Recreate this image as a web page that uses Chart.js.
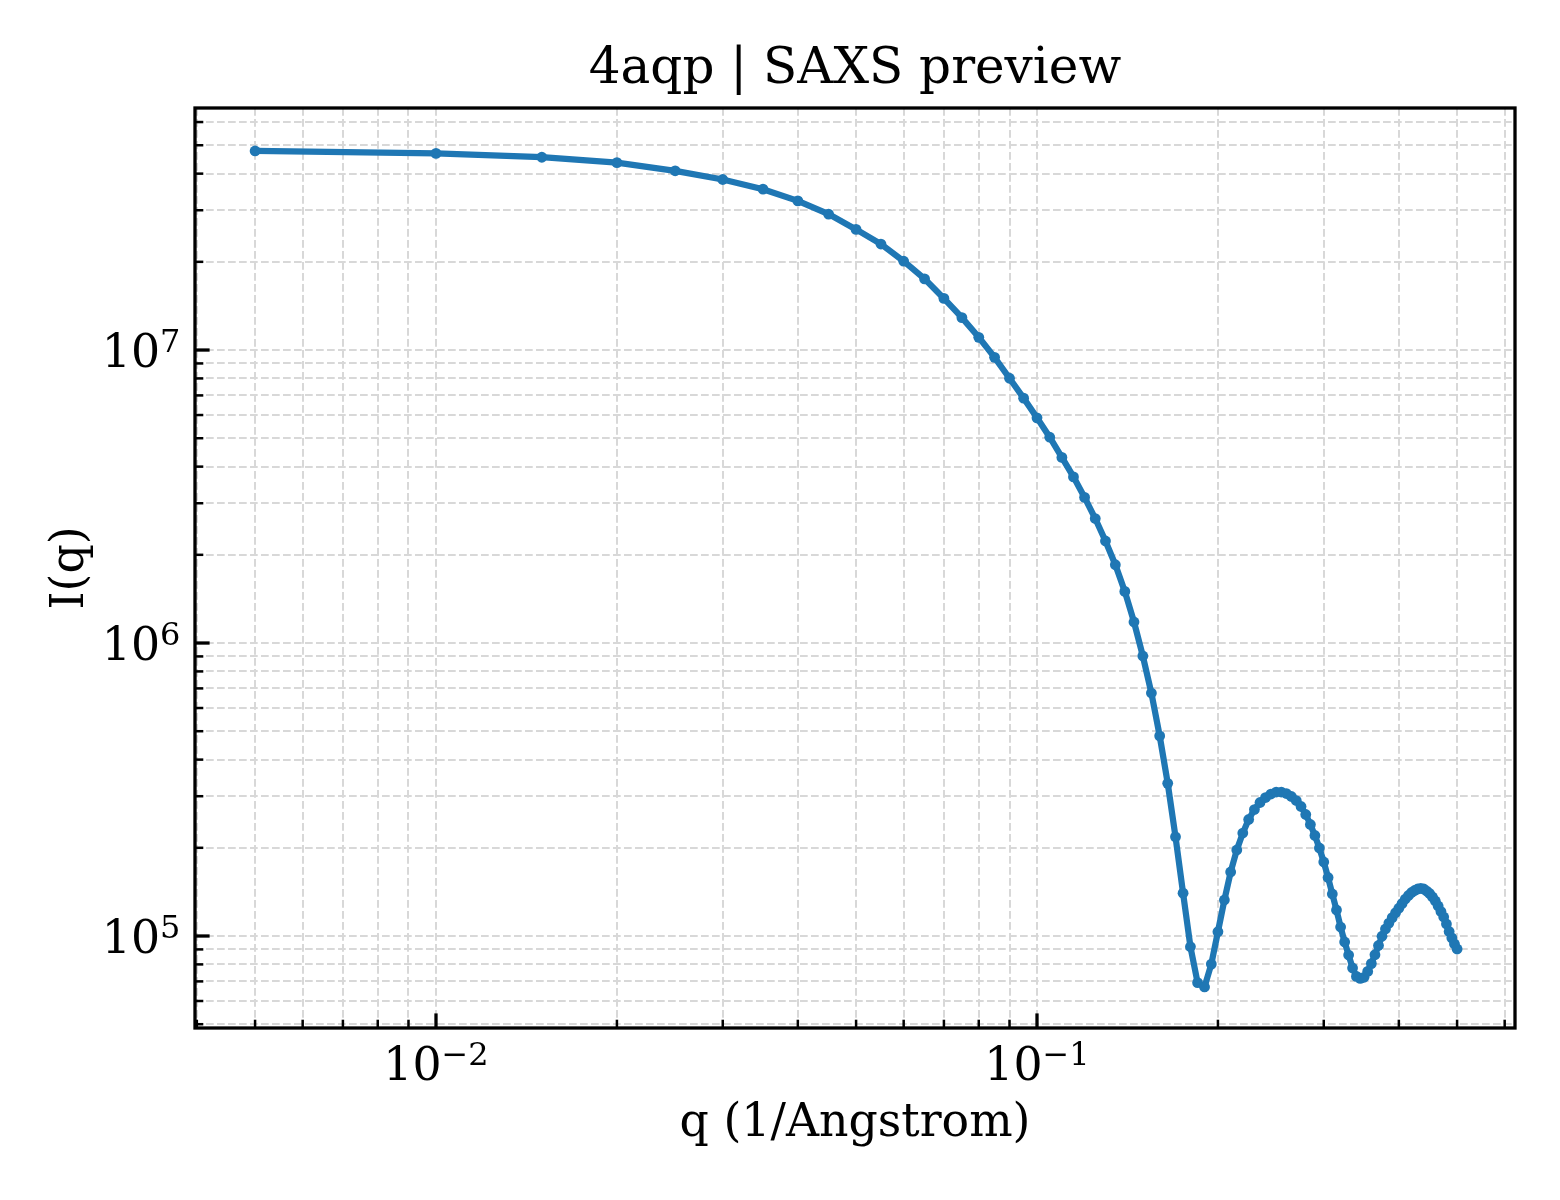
<!DOCTYPE html>
<html>
<head>
<meta charset="utf-8">
<title>4aqp | SAXS preview</title>
<script src="https://cdn.jsdelivr.net/npm/chart.js@4.4.1/dist/chart.umd.min.js"></script>
<style>
  body { margin: 0; background: #ffffff; }
  #saxsChart { display: block; }
</style>
</head>
<body>
<canvas id="saxsChart" width="1560" height="1200"></canvas>
<script>
  // scattering vector q (1/Angstrom)
  const qValues = [
    0.005, 0.010, 0.015, 0.020, 0.025, 0.030, 0.035, 0.040, 0.045, 0.050,
    0.055, 0.060, 0.065, 0.070, 0.075, 0.080, 0.085, 0.090, 0.095, 0.100,
    0.105, 0.110, 0.115, 0.120, 0.125, 0.130, 0.135, 0.140, 0.145, 0.150,
    0.155, 0.160, 0.165, 0.170, 0.175, 0.180, 0.185, 0.190, 0.195, 0.200,
    0.205, 0.210, 0.215, 0.220, 0.225, 0.230, 0.235, 0.240, 0.245, 0.250,
    0.255, 0.260, 0.265, 0.270, 0.275, 0.280, 0.285, 0.290, 0.295, 0.300,
    0.305, 0.310, 0.315, 0.320, 0.325, 0.330, 0.335, 0.340, 0.345, 0.350,
    0.355, 0.360, 0.365, 0.370, 0.375, 0.380, 0.385, 0.390, 0.395, 0.400,
    0.405, 0.410, 0.415, 0.420, 0.425, 0.430, 0.435, 0.440, 0.445, 0.450,
    0.455, 0.460, 0.465, 0.470, 0.475, 0.480, 0.485, 0.490, 0.495, 0.500
  ];

  // intensity I(q)
  const intensity = [
    4.78e7, 4.69e7, 4.55e7, 4.36e7, 4.09e7, 3.82e7, 3.54e7, 3.23e7, 2.91e7, 2.58e7,
    2.30e7, 2.01e7, 1.75e7, 1.50e7, 1.29e7, 1.105e7, 9.44e6, 8.01e6, 6.85e6, 5.87e6,
    5.04e6, 4.30e6, 3.69e6, 3.14e6, 2.66e6, 2.23e6, 1.85e6, 1.50e6, 1.18e6, 9.03e5,
    6.75e5, 4.82e5, 3.32e5, 2.18e5, 1.40e5, 9.19e4, 6.93e4, 6.70e4, 8.02e4, 1.034e5,
    1.327e5, 1.654e5, 1.966e5, 2.246e5, 2.498e5, 2.702e5, 2.855e5, 2.969e5, 3.052e5, 3.10e5,
    3.10e5, 3.064e5, 2.993e5, 2.90e5, 2.767e5, 2.598e5, 2.402e5, 2.203e5, 1.997e5, 1.789e5,
    1.584e5, 1.391e5, 1.227e5, 1.073e5, 9.54e4, 8.61e4, 7.78e4, 7.28e4, 7.17e4, 7.23e4,
    7.57e4, 8.05e4, 8.63e4, 9.28e4, 9.98e4, 1.057e5, 1.107e5, 1.156e5, 1.201e5, 1.244e5,
    1.291e5, 1.337e5, 1.375e5, 1.408e5, 1.430e5, 1.447e5, 1.453e5, 1.447e5, 1.424e5, 1.397e5,
    1.359e5, 1.317e5, 1.266e5, 1.212e5, 1.161e5, 1.099e5, 1.036e5, 9.85e4, 9.39e4, 9.03e4
  ];

  // major ticks and their labels as [base, exponent]
  const xMajorTicks = [0.01, 0.1];
  const xTickLabels = [['10', '−2'], ['10', '−1']];
  const yMajorTicks = [1e5, 1e6, 1e7];
  const yTickLabels = [['10', '5'], ['10', '6'], ['10', '7']];
  const xRange = [0.003972, 0.6242];
  const yRange = [4.853e4, 6.70e7];

  const serif = "'DejaVu Serif', 'Liberation Serif', serif";
  const lineColor = '#1f77b4';
  const gridColor = '#d8d8d8';
  const tickSize = 45.8;
  const expSize = 32;

  // 1..9 x 10^n ticks inside a range, majors flagged
  function logTicks(range, majors) {
    const out = [];
    const lo = Math.floor(Math.log10(range[0]));
    const hi = Math.ceil(Math.log10(range[1]));
    for (let e = lo; e <= hi; e++) {
      for (let m = 1; m <= 9; m++) {
        const v = m === 1 ? majors.find(t => Math.abs(Math.log10(t) - e) < 1e-9) || Math.pow(10, e) : m * Math.pow(10, e);
        if (v >= range[0] && v <= range[1]) out.push({ value: v, major: m === 1 });
      }
    }
    return out;
  }

  // "10" with a raised exponent, like mathtext
  function powerLabel(ctx, parts, x, baseY, align) {
    ctx.font = tickSize + 'px ' + serif;
    const wb = ctx.measureText(parts[0]).width;
    ctx.font = expSize + 'px ' + serif;
    const we = ctx.measureText(parts[1]).width;
    const x0 = align === 'center' ? x - (wb + we) / 2 : x - (wb + we);
    ctx.textAlign = 'left';
    ctx.textBaseline = 'alphabetic';
    ctx.font = tickSize + 'px ' + serif;
    ctx.fillText(parts[0], x0, baseY);
    ctx.font = expSize + 'px ' + serif;
    ctx.fillText(parts[1], x0 + wb, baseY - 15);
  }

  // inward tick marks, tick labels and full box, like the matplotlib axes
  const axesFrame = {
    id: 'axesFrame',
    afterDraw(chart) {
      const { ctx, chartArea: a, scales } = chart;
      ctx.save();
      ctx.strokeStyle = '#000';
      ctx.fillStyle = '#000';
      ctx.lineCap = 'butt';
      scales.x.ticks.forEach(t => {
        const px = scales.x.getPixelForValue(t.value);
        ctx.lineWidth = t.major ? 3.3 : 2.5;
        ctx.beginPath();
        ctx.moveTo(px, a.bottom);
        ctx.lineTo(px, a.bottom - (t.major ? 14.6 : 8.3));
        ctx.stroke();
      });
      scales.y.ticks.forEach(t => {
        const py = scales.y.getPixelForValue(t.value);
        ctx.lineWidth = t.major ? 3.3 : 2.5;
        ctx.beginPath();
        ctx.moveTo(a.left, py);
        ctx.lineTo(a.left + (t.major ? 14.6 : 8.3), py);
        ctx.stroke();
      });
      ctx.lineWidth = 3.3;
      ctx.strokeRect(a.left, a.top, a.right - a.left, a.bottom - a.top);

      xMajorTicks.forEach((v, i) => {
        powerLabel(ctx, xTickLabels[i], scales.x.getPixelForValue(v), a.bottom + 52, 'center');
      });
      yMajorTicks.forEach((v, i) => {
        powerLabel(ctx, yTickLabels[i], a.left - 14.6, scales.y.getPixelForValue(v) + 16.5, 'right');
      });
      ctx.restore();
    }
  };

  const data = {
    datasets: [{
      label: 'I(q)',
      data: qValues.map((q, i) => ({ x: q, y: intensity[i] })),
      borderColor: lineColor,
      backgroundColor: lineColor,
      borderWidth: 6.25,
      pointRadius: 5.4,
      pointBorderWidth: 0,
      pointBackgroundColor: lineColor,
      tension: 0
    }]
  };

  const config = {
    type: 'line',
    data: data,
    options: {
      responsive: false,
      animation: false,
      devicePixelRatio: 1,
      layout: { padding: { left: 0, right: 45, top: 0, bottom: 0 } },
      plugins: {
        legend: { display: false },
        tooltip: { enabled: false },
        title: {
          display: true,
          fullSize: false,
          text: '4aqp | SAXS preview',
          color: '#000',
          font: { family: serif, size: 50, weight: 'normal', lineHeight: 1.2 },
          padding: { top: 40, bottom: 8 }
        }
      },
      scales: {
        x: {
          type: 'logarithmic',
          position: 'bottom',
          min: xRange[0],
          max: xRange[1],
          bounds: 'data',
          afterBuildTicks: scale => { scale.ticks = logTicks(xRange, xMajorTicks); },
          afterFit: scale => { scale.height = 172; },
          ticks: { display: false, autoSkip: false, maxRotation: 0 },
          grid: { color: gridColor, lineWidth: 2, drawTicks: false },
          border: { display: false, dash: [7.7, 3.3] },
          title: {
            display: true,
            text: 'q (1/Angstrom)',
            color: '#000',
            font: { family: serif, size: 45.8, lineHeight: 1.2 },
            padding: { top: 0, bottom: 48 }
          }
        },
        y: {
          type: 'logarithmic',
          position: 'left',
          min: yRange[0],
          max: yRange[1],
          bounds: 'data',
          afterBuildTicks: scale => { scale.ticks = logTicks(yRange, yMajorTicks); },
          afterFit: scale => { scale.width = 195; },
          ticks: { display: false, autoSkip: false },
          grid: { color: gridColor, lineWidth: 2, drawTicks: false },
          border: { display: false, dash: [7.7, 3.3] },
          title: {
            display: true,
            text: 'I(q)',
            color: '#000',
            font: { family: serif, size: 45.8, lineHeight: 1.2 },
            padding: { top: 43.5, bottom: 0 }
          }
        }
      }
    },
    plugins: [axesFrame]
  };

  const saxsChart = new Chart(document.getElementById('saxsChart'), config);
</script>
</body>
</html>
